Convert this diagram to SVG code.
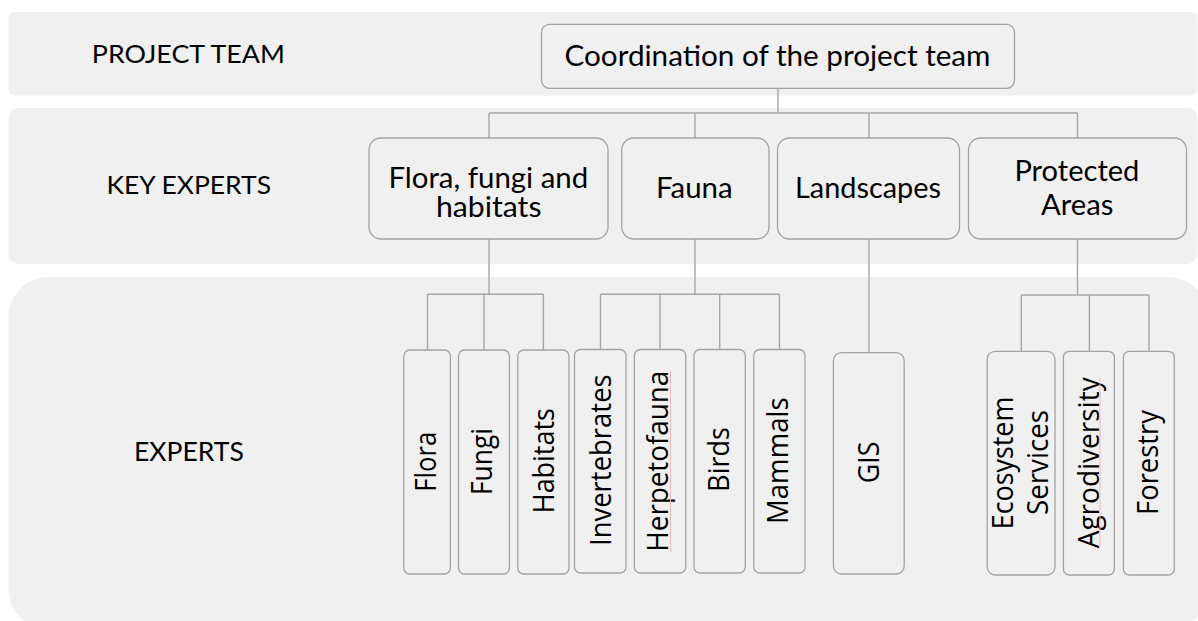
<svg xmlns="http://www.w3.org/2000/svg" width="1198" height="621" viewBox="0 0 1198 621">
<style>
.band{fill:#f0f0f0;stroke:none}
.box{fill:#f0f0f0;stroke:#a3a3a3;stroke-width:1.3}
.lbl{font-family:Lato,"Liberation Sans",sans-serif;fill:#000}
.h{font-family:Lato,"Liberation Sans",sans-serif;font-size:29.5px;fill:#000}
.v{font-family:"Open Sans","Noto Sans",sans-serif;font-size:29px;fill:#000;text-anchor:middle}
.conn{fill:none;stroke:#a6a6a6;stroke-width:1.4}
.spell{stroke:#f3b9b9;stroke-width:1;fill:none}
</style>
<rect width="1198" height="621" fill="#ffffff"/>
<g id="bands">
<rect class="band" x="8.5" y="12" width="1189" height="83.5" rx="6"/>
<rect class="band" x="8.5" y="108" width="1189" height="156" rx="10"/>
<rect class="band" x="8.5" y="277" width="1200" height="352" rx="40"/>
</g>
<g id="row-labels">
<text class="lbl" x="91.8" y="63.3" font-size="25.5" textLength="193" lengthAdjust="spacingAndGlyphs">PROJECT TEAM</text>
<text class="lbl" x="106.4" y="194.3" font-size="25.5" textLength="164.6" lengthAdjust="spacingAndGlyphs">KEY EXPERTS</text>
<text class="lbl" x="134" y="461" font-size="26.5" textLength="109.8" lengthAdjust="spacingAndGlyphs">EXPERTS</text>
</g>
<g id="connectors">
<path class="conn" d="M778 88.3V113M489 113H1077.5M489 113V138M695 113V138M869 113V138M1077.5 113V138"/>
<path class="conn" d="M489 239V294.3M427.5 294.3H543.4M427.5 294.3V350M484 294.3V350M543.4 294.3V350"/>
<path class="conn" d="M695 239V294.3M600.5 294.3H779.4M600.5 294.3V349.5M660 294.3V349.5M719.7 294.3V349.5M779.4 294.3V349.5"/>
<path class="conn" d="M869 239V352.7"/>
<path class="conn" d="M1077.5 239V295M1021.3 295H1149M1021.3 295V351.3M1089.4 295V351.3M1149 295V351.3"/>
</g>
<g id="coordination">
<rect class="box" x="541.5" y="24.3" width="473" height="64" rx="8"/>
<text class="h" x="564.5" y="66" textLength="426" lengthAdjust="spacingAndGlyphs">Coordination of the project team</text>
</g>
<g id="key-flora">
<rect class="box" x="369" y="138" width="239" height="101" rx="12"/>
<text class="h" x="388.4" y="188.3" font-size="29" textLength="199.8" lengthAdjust="spacingAndGlyphs">Flora, fungi and</text>
<text class="h" x="436" y="216.5" font-size="29" textLength="105.5" lengthAdjust="spacingAndGlyphs">habitats</text>
</g>
<g id="key-fauna">
<rect class="box" x="621.7" y="138" width="147.3" height="101" rx="12"/>
<text class="h" x="656" y="198.3" textLength="76.7" lengthAdjust="spacingAndGlyphs">Fauna</text>
</g>
<g id="key-landscapes">
<rect class="box" x="777.5" y="138" width="182" height="101" rx="12"/>
<text class="h" x="795" y="198.3" textLength="146" lengthAdjust="spacingAndGlyphs">Landscapes</text>
</g>
<g id="key-protected">
<rect class="box" x="968.5" y="138" width="218" height="101" rx="12"/>
<text class="h" x="1014.4" y="181" textLength="125" lengthAdjust="spacingAndGlyphs">Protected</text>
<text class="h" x="1041" y="215" textLength="72.5" lengthAdjust="spacingAndGlyphs">Areas</text>
</g>
<g id="exp-flora">
<rect class="box" x="403.8" y="350" width="46.6" height="224" rx="6"/>
<text class="v" transform="translate(436.3 461.7) rotate(-90)" textLength="60" lengthAdjust="spacingAndGlyphs">Flora</text>
</g>
<g id="exp-fungi">
<rect class="box" x="458.5" y="350" width="50.9" height="224" rx="6"/>
<text class="v" transform="translate(491.8 461.5) rotate(-90)" textLength="67" lengthAdjust="spacingAndGlyphs">Fungi</text>
</g>
<g id="exp-habitats">
<rect class="box" x="517.8" y="350" width="51.2" height="224" rx="6"/>
<text class="v" transform="translate(553.8 460.7) rotate(-90)" textLength="105" lengthAdjust="spacingAndGlyphs">Habitats</text>
</g>
<g id="exp-invertebrates">
<rect class="box" x="574.5" y="349.5" width="51.5" height="223.5" rx="6"/>
<text class="v" transform="translate(611 460.2) rotate(-90)" textLength="171.7" lengthAdjust="spacingAndGlyphs">Invertebrates</text>
</g>
<g id="exp-herpetofauna">
<rect class="box" x="634.4" y="349.5" width="51.3" height="223.5" rx="6"/>
<text class="v" transform="translate(668.3 461.2) rotate(-90)" textLength="181" lengthAdjust="spacingAndGlyphs">Herpetofauna</text>
<path class="spell" d="M670.5 370.7V551.7"/>
</g>
<g id="exp-birds">
<rect class="box" x="694" y="349.5" width="51.3" height="223.5" rx="6"/>
<text class="v" transform="translate(728.9 459.5) rotate(-90)" textLength="64.4" lengthAdjust="spacingAndGlyphs">Birds</text>
</g>
<g id="exp-mammals">
<rect class="box" x="753.8" y="349.5" width="51.2" height="223.5" rx="6"/>
<text class="v" transform="translate(788.2 460.7) rotate(-90)" textLength="126.7" lengthAdjust="spacingAndGlyphs">Mammals</text>
</g>
<g id="exp-gis">
<rect class="box" x="833.4" y="352.7" width="70.8" height="221.3" rx="8"/>
<text class="v" transform="translate(879.3 462.5) rotate(-90)" textLength="41.6" lengthAdjust="spacingAndGlyphs">GIS</text>
</g>
<g id="exp-ecosystem">
<rect class="box" x="987.2" y="351.3" width="67.8" height="223.7" rx="8"/>
<text class="v" transform="translate(1012.5 463) rotate(-90)" textLength="132.6" lengthAdjust="spacingAndGlyphs">Ecosystem</text>
<text class="v" transform="translate(1047.7 462.5) rotate(-90)" textLength="105" lengthAdjust="spacingAndGlyphs">Services</text>
</g>
<g id="exp-agrodiversity">
<rect class="box" x="1063.4" y="351.3" width="51" height="223.7" rx="6"/>
<text class="v" transform="translate(1099.3 462.8) rotate(-90)" textLength="171" lengthAdjust="spacingAndGlyphs">Agrodiversity</text>
<path class="spell" d="M1100 378V548"/>
</g>
<g id="exp-forestry">
<rect class="box" x="1123.4" y="351.3" width="50.9" height="223.7" rx="6"/>
<text class="v" transform="translate(1157.7 462.5) rotate(-90)" textLength="105" lengthAdjust="spacingAndGlyphs">Forestry</text>
</g>
</svg>
